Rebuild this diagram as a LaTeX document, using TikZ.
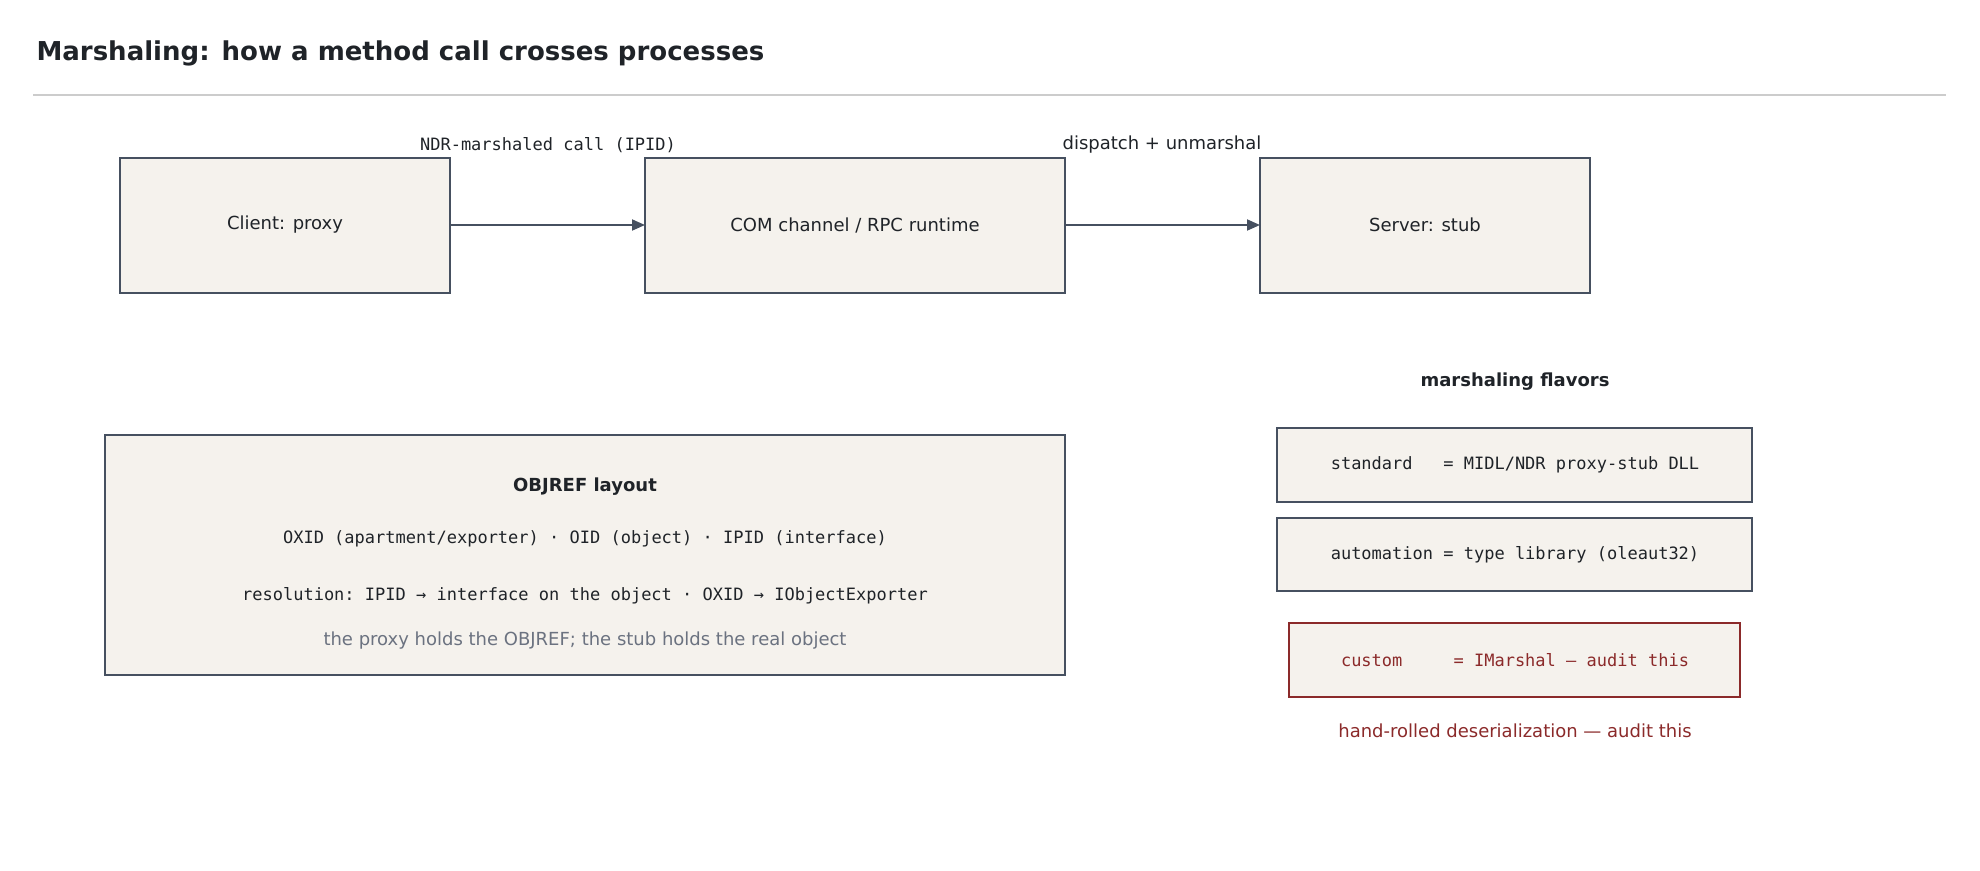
\documentclass[tikz,border=0pt]{standalone}
\usepackage{fontspec}
\setmainfont{DejaVu Sans}
\setmonofont{DejaVu Sans Mono}
\usetikzlibrary{arrows.meta}
\definecolor{ink}{HTML}{1F2328}
\definecolor{edge}{HTML}{465060}
\definecolor{paper}{HTML}{F5F2ED}
\definecolor{redd}{HTML}{8B2A2A}
\definecolor{muted}{HTML}{6B7280}
\definecolor{rule}{HTML}{CCCCCC}
\tikzset{
  box/.style={draw=edge,line width=1.8pt,fill=paper},
  lbl/.style={text=ink,font=\fontsize{18}{22}\selectfont},
  mono/.style={text=ink,font=\ttfamily\fontsize{17}{21}\selectfont},
  arr/.style={draw=edge,line width=1.8pt,-{Triangle[length=13pt,width=11pt]}},
}
\begin{document}
\begin{tikzpicture}[x=1pt,y=-1pt]
\useasboundingbox (0,0) rectangle (1980,870);
\node[anchor=west,text=ink,font=\bfseries\fontsize{26}{30}\selectfont] (title) at (33,53) {Marshaling: how a method call crosses processes};
\draw[rule,line width=1.2pt] (33,95) -- (1946,95);
\draw[box] (120,158) rectangle (450,293);
\node[lbl] (client) at (285,225) {Client: proxy};
\draw[box] (645,158) rectangle (1065,293);
\node[lbl] (chan) at (855,225) {COM channel / RPC runtime};
\draw[box] (1260,158) rectangle (1590,293);
\node[lbl] (server) at (1425,225) {Server: stub};
\coordinate (c1) at (450,225); \coordinate (c2) at (645,225);
\coordinate (c3) at (1065,225); \coordinate (c4) at (1260,225);
\draw[arr] (c1) -- (c2);
\draw[arr] (c3) -- (c4);
\node[mono] (l1) at (548,145) {NDR-marshaled call (IPID)};
\node[lbl] (l2) at (1162,145) {dispatch + unmarshal};
\draw[box] (105,435) rectangle (1065,675);
\node[lbl,font=\bfseries\fontsize{18}{22}\selectfont] (ot) at (585,487) {OBJREF layout};
\node[mono] (o1) at (585,539) {OXID (apartment/exporter) · OID (object) · IPID (interface)};
\node[mono] (o2) at (585,596) {resolution: IPID → interface on the object · OXID → IObjectExporter};
\node[lbl,text=muted] (o3) at (585,641) {the proxy holds the OBJREF; the stub holds the real object};
\node[lbl,font=\bfseries\fontsize{18}{22}\selectfont] (mf) at (1515,382) {marshaling flavors};
\draw[box] (1277,428) rectangle (1752,502);
\node[mono] (s) at (1515,465) {standard\ \ \ = MIDL/NDR proxy-stub DLL};
\draw[box] (1277,518) rectangle (1752,591);
\node[mono] (a) at (1515,555) {automation = type library (oleaut32)};
\draw[box,draw=redd] (1289,623) rectangle (1740,697);
\node[mono,text=redd] (c) at (1515,660) {custom\ \ \ \ \ = IMarshal — audit this};
\node[lbl,text=redd] (h) at (1515,731) {hand-rolled deserialization — audit this};
\end{tikzpicture}
\end{document}
